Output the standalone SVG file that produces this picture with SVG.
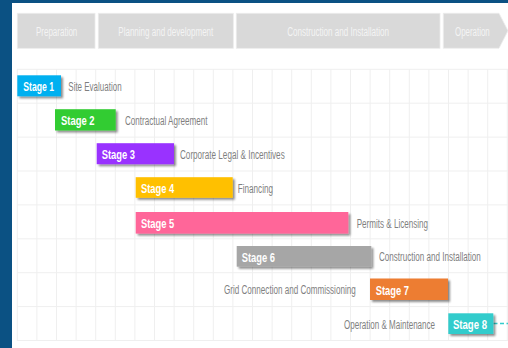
<svg xmlns="http://www.w3.org/2000/svg" width="508" height="348" viewBox="0 0 508 348">
<defs>
<style>
.phase{fill:#d9d9d9;stroke:#ececec;stroke-width:0.8}
.ph{font-family:"Liberation Sans",Arial,sans-serif;font-size:12px;fill:#f4f4f4}
.grid{stroke:#efefef;stroke-width:1;fill:none}
.st{font-family:"Liberation Sans",Arial,sans-serif;font-size:13.5px;font-weight:bold;fill:#ffffff}
.lb{font-family:"Liberation Sans",Arial,sans-serif;font-size:12px;fill:#7f7f7f}
.end{text-anchor:end}
.box{filter:url(#sh)}
</style>
<filter id="sh" x="-20%" y="-30%" width="140%" height="170%">
<feGaussianBlur in="SourceAlpha" stdDeviation="1.2"/>
<feOffset dx="2" dy="2" result="o"/>
<feComponentTransfer><feFuncA type="linear" slope="0.45"/></feComponentTransfer>
<feMerge><feMergeNode/><feMergeNode in="SourceGraphic"/></feMerge>
</filter>
</defs>
<rect x="0" y="0" width="508" height="348" fill="#0b5183"/>
<rect x="12" y="3" width="496" height="345" fill="#ffffff"/>
<g id="grid" class="grid">
<path d="M17.3 69.3V341M36.9 69.3V341M56.5 69.3V341M76.1 69.3V341M95.7 69.3V341M115.3 69.3V341M134.9 69.3V341M154.5 69.3V341M174.1 69.3V341M193.7 69.3V341M213.3 69.3V341M232.9 69.3V341M252.5 69.3V341M272.1 69.3V341M291.7 69.3V341M311.3 69.3V341M330.9 69.3V341M350.5 69.3V341M370.1 69.3V341M389.7 69.3V341M409.3 69.3V341M428.9 69.3V341M448.5 69.3V341M468.1 69.3V341M487.7 69.3V341M507.3 69.3V341"/>
<path d="M17 69.3H508M17 103.2H508M17 137.1H508M17 171H508M17 204.9H508M17 238.8H508M17 272.7H508M17 306.6H508M17 340.5H508"/>
</g>
<g id="phase-preparation">
<rect class="phase" x="17.3" y="13.3" width="77.7" height="35"/>
<text class="ph" x="36" y="36" textLength="41.3" lengthAdjust="spacingAndGlyphs">Preparation</text>
</g>
<g id="phase-planning">
<rect class="phase" x="98.3" y="13.3" width="135" height="35"/>
<text class="ph" x="118.3" y="36" textLength="95" lengthAdjust="spacingAndGlyphs">Planning and development</text>
</g>
<g id="phase-construction">
<rect class="phase" x="236.3" y="13.3" width="203.7" height="35"/>
<text class="ph" x="287.3" y="36" textLength="101.7" lengthAdjust="spacingAndGlyphs">Construction and Installation</text>
</g>
<g id="phase-operation">
<polygon class="phase" points="443.3,13.3 499,13.3 508,30.8 499,48.3 443.3,48.3"/>
<text class="ph" x="455" y="36" textLength="34.7" lengthAdjust="spacingAndGlyphs">Operation</text>
</g>
<g id="connectors">
<line x1="493.5" y1="323.5" x2="508" y2="323.5" stroke="#33cccc" stroke-width="1.5" stroke-dasharray="4,2.5"/>
</g>
<g id="stage1">
<rect class="box" x="17.3" y="75.3" width="43.7" height="21" fill="#00b0f0"/>
<text class="st" x="23.3" y="91" textLength="30.7" lengthAdjust="spacingAndGlyphs">Stage 1</text>
<text class="lb" x="68.3" y="90.5" textLength="53.3" lengthAdjust="spacingAndGlyphs">Site Evaluation</text>
</g>
<g id="stage2">
<rect class="box" x="55" y="109.2" width="60.7" height="21.3" fill="#33cc33"/>
<text class="st" x="61" y="125" textLength="33.5" lengthAdjust="spacingAndGlyphs">Stage 2</text>
<text class="lb" x="125" y="124.5" textLength="82.5" lengthAdjust="spacingAndGlyphs">Contractual Agreement</text>
</g>
<g id="stage3">
<rect class="box" x="96.7" y="143.2" width="77.3" height="21" fill="#9933ff"/>
<text class="st" x="101.7" y="159" textLength="33.3" lengthAdjust="spacingAndGlyphs">Stage 3</text>
<text class="lb" x="180" y="158.5" textLength="104.7" lengthAdjust="spacingAndGlyphs">Corporate Legal &amp; Incentives</text>
</g>
<g id="stage4">
<rect class="box" x="135.7" y="177.2" width="97" height="20.6" fill="#ffc000"/>
<text class="st" x="141" y="193" textLength="33.3" lengthAdjust="spacingAndGlyphs">Stage 4</text>
<text class="lb" x="237.7" y="192.5" textLength="35.3" lengthAdjust="spacingAndGlyphs">Financing</text>
</g>
<g id="stage5">
<rect class="box" x="135.7" y="212" width="212.6" height="21.6" fill="#ff6699"/>
<text class="st" x="141" y="228" textLength="33.3" lengthAdjust="spacingAndGlyphs">Stage 5</text>
<text class="lb" x="356.7" y="227.5" textLength="71.3" lengthAdjust="spacingAndGlyphs">Permits &amp; Licensing</text>
</g>
<g id="stage6">
<rect class="box" x="236.7" y="246" width="134.6" height="20.7" fill="#a6a6a6"/>
<text class="st" x="241.7" y="261.8" textLength="33.3" lengthAdjust="spacingAndGlyphs">Stage 6</text>
<text class="lb end" x="480.7" y="261.3" textLength="101.7" lengthAdjust="spacingAndGlyphs">Construction and Installation</text>
</g>
<g id="stage7">
<rect class="box" x="370" y="278.5" width="78" height="21.5" fill="#ed7d31"/>
<text class="st" x="375.7" y="294.8" textLength="33.3" lengthAdjust="spacingAndGlyphs">Stage 7</text>
<text class="lb end" x="355.7" y="294.3" textLength="131.7" lengthAdjust="spacingAndGlyphs">Grid Connection and Commissioning</text>
</g>
<g id="stage8">
<rect class="box" x="448.3" y="313.3" width="45" height="20.7" fill="#33cccc"/>
<text class="st" x="453" y="329" textLength="34" lengthAdjust="spacingAndGlyphs">Stage 8</text>
<text class="lb end" x="435" y="328.5" textLength="91" lengthAdjust="spacingAndGlyphs">Operation &amp; Maintenance</text>
</g>
</svg>
